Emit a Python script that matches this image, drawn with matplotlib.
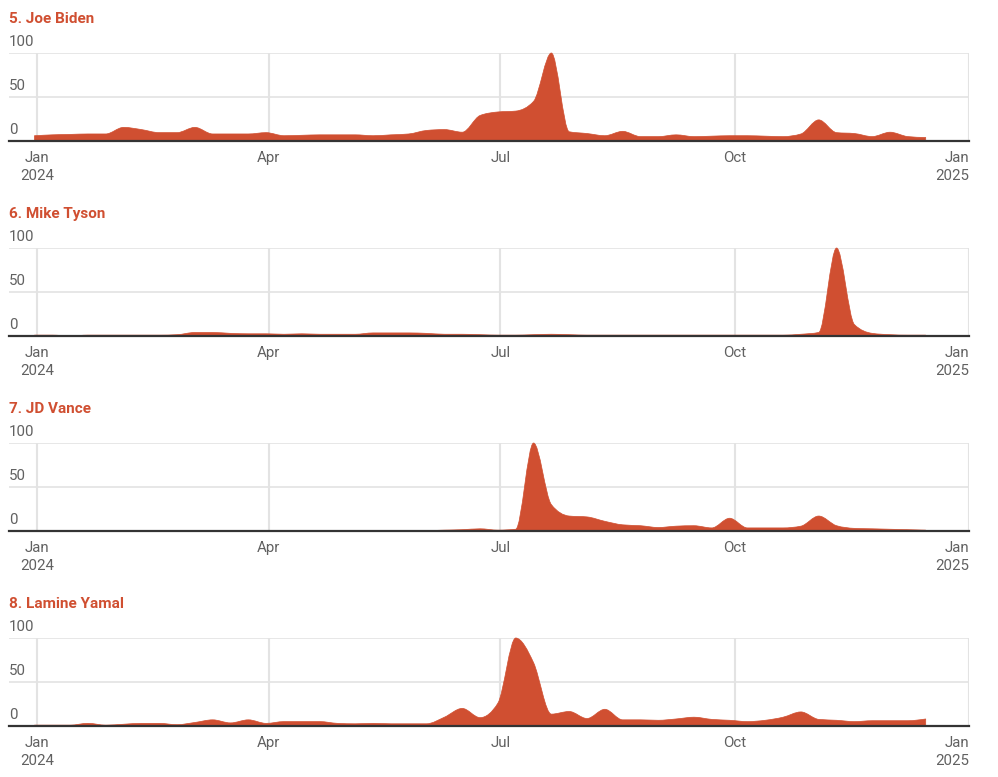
import numpy as np
import datetime as dt
import matplotlib
matplotlib.use("Agg")
import matplotlib.pyplot as plt
import matplotlib.dates as mdates
from matplotlib.path import Path
from matplotlib.patches import PathPatch

plt.rcParams['font.family'] = ['Roboto', 'DejaVu Sans']

# weekly search interest, week starting Dec 31 2023
start_week = dt.date(2023, 12, 31)
n_weeks = 51

titles = ["5. Joe Biden", "6. Mike Tyson", "7. JD Vance", "8. Lamine Yamal"]

biden = [6, 7, 7.5, 8, 8, 15.5, 13, 9.5, 9.5, 15.5,
         8, 8, 8, 9.5, 6, 6.5, 7, 7, 7, 6,
         7, 8, 12, 13, 10, 29, 33, 34, 45, 100,
         10.5, 8.5, 6, 11, 5, 5, 7, 5, 5.5, 6,
         6, 5.5, 5, 8, 24, 9.5, 8.5, 5, 10, 5,
         4]
tyson = [1, 1, 0, 1, 1, 1, 1, 1, 1.5, 4,
         4, 3, 2.5, 2.5, 2, 2.5, 2, 2, 2, 3.5,
         3.5, 3.5, 3, 2, 2, 1.5, 1, 1, 1.5, 2,
         1.5, 1, 1, 1, 1, 1, 1, 1, 1, 1,
         1, 1, 1, 2, 4, 100, 13, 3, 1.5, 1,
         1]
vance = [0.5, 0.5, 0.5, 0.5, 0.5, 0.5, 0.5, 0.5, 0.5, 0.5,
         0.5, 0.5, 0.5, 0.5, 0.5, 0.5, 0.5, 0.5, 0.5, 0.5,
         0.5, 0.5, 0.5, 1, 1.5, 2.5, 1, 2, 100, 30,
         17, 16, 11, 7, 6, 4, 5.5, 6, 3.5, 14.5,
         3.5, 3.5, 3.5, 5.5, 17, 6, 3, 2.5, 2, 1.5,
         1]
yamal = [1, 1, 1, 3, 1, 2, 3, 3, 1.5, 4,
         7, 3.5, 7, 3, 5, 5, 5, 3, 2.5, 3,
         2.5, 2.5, 2.5, 10, 20, 9.5, 26, 100, 72, 13.5,
         16.5, 8.5, 19, 7, 7, 6.5, 8, 10, 7.5, 6.5,
         5, 6.5, 10, 16, 7.5, 6.5, 5, 6, 6, 6,
         8]
series = [biden, tyson, vance, yamal]

y_ticks = [0, 50, 100]
x_tick_dates = [dt.date(2024, 1, 1), dt.date(2024, 4, 1), dt.date(2024, 7, 1),
                dt.date(2024, 10, 1), dt.date(2025, 1, 1)]
x_tick_labels = ["Jan\n2024", "Apr", "Jul", "Oct", "Jan\n2025"]

RED = "#d04f31"
GRID = "#e3e3e3"
TXT = "#616161"

W, H = 998, 777


def monotone_path(x, y):
    # cubic bezier path with monotone-x tangents
    x = np.asarray(x, float)
    y = np.asarray(y, float)
    n = len(x)
    h = np.diff(x)
    s = np.diff(y) / h
    t = np.zeros(n)
    for i in range(1, n - 1):
        s0, s1 = s[i - 1], s[i]
        p = (s0 * h[i] + s1 * h[i - 1]) / (h[i - 1] + h[i])
        t[i] = (np.sign(s0) + np.sign(s1)) * min(abs(s0), abs(s1), 0.5 * abs(p))
    t[0] = (3 * s[0] - t[1]) / 2
    t[-1] = (3 * s[-1] - t[-2]) / 2
    verts = [(x[0], 0), (x[0], y[0])]
    codes = [Path.MOVETO, Path.LINETO]
    for i in range(n - 1):
        dx = h[i] / 3
        verts += [(x[i] + dx, y[i] + dx * t[i]), (x[i + 1] - dx, y[i + 1] - dx * t[i + 1]),
                  (x[i + 1], y[i + 1])]
        codes += [Path.CURVE4] * 3
    verts += [(x[-1], 0), (x[0], 0)]
    codes += [Path.LINETO, Path.CLOSEPOLY]
    return Path(verts, codes)


fig = plt.figure(figsize=(W / 100, H / 100), dpi=100)

weeks = [start_week + dt.timedelta(days=7 * i) for i in range(n_weeks)]
xw = mdates.date2num(weeks)
xmin = mdates.date2num(dt.date(2023, 12, 21))
xmax = mdates.date2num(dt.date(2025, 1, 1))

for k, (title, vals) in enumerate(zip(titles, series)):
    off = 195 * k
    top, bot = 53 + off, 141 + off
    ax = fig.add_axes([9 / W, 1 - bot / H, (969 - 9) / W, (bot - top) / H])
    ax.set_xlim(xmin, xmax)
    ax.set_ylim(0, 100)
    for sp in ax.spines.values():
        sp.set_visible(False)

    for v in y_ticks[1:]:
        ax.axhline(v, color=GRID, lw=1.2, zorder=0)
    for d in x_tick_dates:
        ax.axvline(mdates.date2num(d), color=GRID, lw=1.5, zorder=0)

    ax.add_patch(PathPatch(monotone_path(xw, vals), facecolor=RED, edgecolor=RED,
                           lw=0.5, zorder=2, clip_on=False))
    ax.axhline(0, color="#333333", lw=1.6, zorder=3, clip_on=False)

    ax.set_yticks([])
    ax.set_xticks(mdates.date2num(x_tick_dates))
    ax.set_xticklabels(x_tick_labels, fontsize=10.8, color=TXT, linespacing=1.35)
    ax.tick_params(axis="x", length=0, pad=7)
    lbls = ax.get_xticklabels()
    lbls[-1].set_horizontalalignment("right")
    lbls[-1].set_multialignment("right")

    for v in y_ticks:
        ax.annotate(str(v), xy=(0, v), xycoords=ax.get_yaxis_transform(),
                    xytext=(0, 4), textcoords="offset pixels",
                    ha="left", va="bottom", fontsize=10.8, color=TXT)

    fig.text(9 / W, 1 - (23 + off) / H, title, ha="left", va="baseline",
             fontsize=11, fontweight="bold", color=RED)

fig.savefig("out.png", dpi=100)
